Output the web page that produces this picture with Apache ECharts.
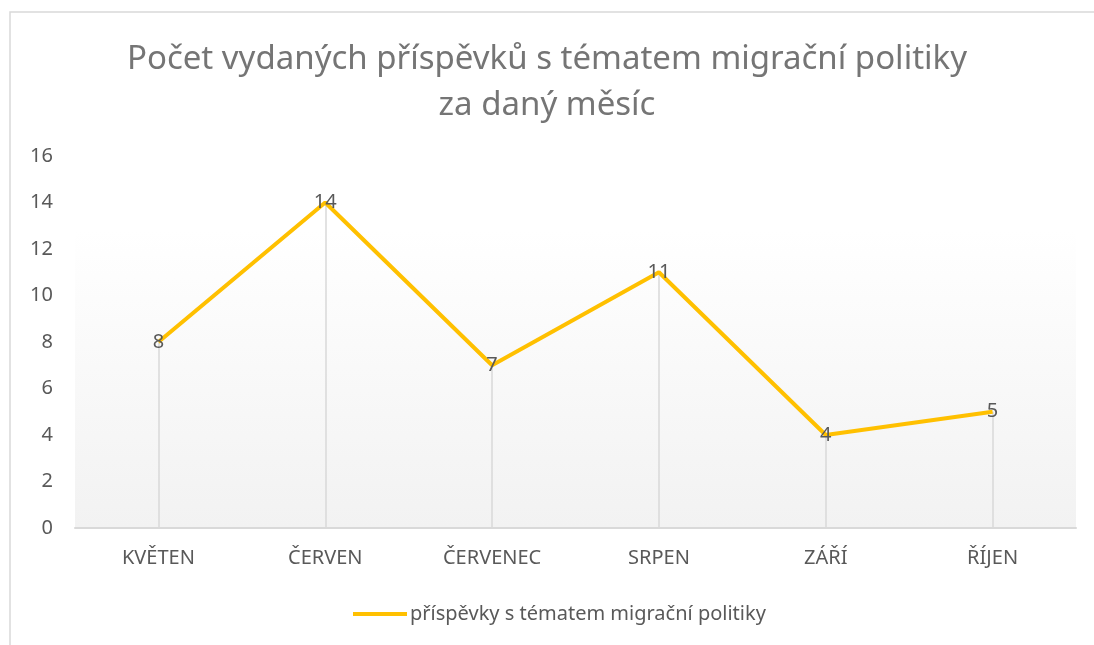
<!DOCTYPE html>
<html>
<head>
<meta charset="utf-8">
<script src="https://cdn.jsdelivr.net/npm/echarts@6/dist/echarts.min.js"></script>
<style>
  html, body { margin: 0; padding: 0; background: #fff; }
  #chart { width: 1094px; height: 645px; }
</style>
</head>
<body>
<div id="chart"></div>
<script>
const months = ['KVĚTEN', 'ČERVEN', 'ČERVENEC', 'SRPEN', 'ZÁŘÍ', 'ŘÍJEN']
const posts = [8, 14, 7, 11, 4, 5]
const seriesName = 'příspěvky s tématem migrační politiky'
const titleText = 'Počet vydaných příspěvků s tématem migrační politiky\nza daný měsíc'

const font = '"Noto Sans", "Open Sans", sans-serif'
const textColor = '#595959'

const chart = echarts.init(document.getElementById('chart'))

// vertical drop lines from every point down to the axis
const dropLines = posts.map((v, i) => [
  { coord: [i, 0] },
  { coord: [i, v] }
])

chart.setOption({
  animation: false,
  title: {
    text: titleText,
    left: 'center',
    top: 32,
    textStyle: {
      fontFamily: font,
      fontSize: 33,
      fontWeight: 'normal',
      color: '#757575',
      lineHeight: 46
    }
  },
  legend: {
    bottom: 16,
    left: 348,
    itemWidth: 54,
    itemHeight: 4,
    itemGap: 4,
    icon: 'rect',
    textStyle: { fontFamily: font, fontSize: 20, color: textColor, padding: [0, 0, 0, -2] },
    data: [seriesName]
  },
  grid: {
    left: 75,
    right: 18,
    top: 156,
    bottom: 117,
    show: true,
    borderWidth: 0,
    backgroundColor: {
      type: 'linear', x: 0, y: 0, x2: 0, y2: 1,
      colorStops: [
        { offset: 0, color: '#ffffff' },
        { offset: 0.2, color: '#ffffff' },
        { offset: 1, color: '#f2f2f2' }
      ]
    }
  },
  xAxis: {
    type: 'category',
    data: months,
    boundaryGap: true,
    axisLine: { lineStyle: { color: '#d9d9d9', width: 2 } },
    axisTick: { show: false },
    axisLabel: { fontFamily: font, fontSize: 20, color: textColor, margin: 20 }
  },
  yAxis: {
    type: 'value',
    min: 0,
    max: 16,
    interval: 2,
    axisLine: { show: false },
    axisTick: { show: false },
    splitLine: { show: false },
    axisLabel: { fontFamily: font, fontSize: 20, color: textColor, margin: 22 }
  },
  series: [{
    name: seriesName,
    type: 'line',
    data: posts,
    symbol: 'circle',
    symbolSize: 0.1,
    showSymbol: true,
    lineStyle: { color: '#ffc000', width: 4 },
    itemStyle: { color: '#ffc000' },
    label: {
      show: true,
      position: 'inside',
      fontFamily: font,
      fontSize: 20,
      color: textColor
    },
    markLine: {
      silent: true,
      symbol: 'none',
      label: { show: false },
      lineStyle: { color: '#d9d9d9', width: 1.5, type: 'solid' },
      z: 1,
      data: dropLines
    }
  }],
  graphic: [{
    type: 'rect',
    shape: { x: 10, y: 12, width: 1100, height: 700 },
    style: { fill: 'none', stroke: '#d9d9d9', lineWidth: 1.5 },
    silent: true
  }]
})
</script>
</body>
</html>
